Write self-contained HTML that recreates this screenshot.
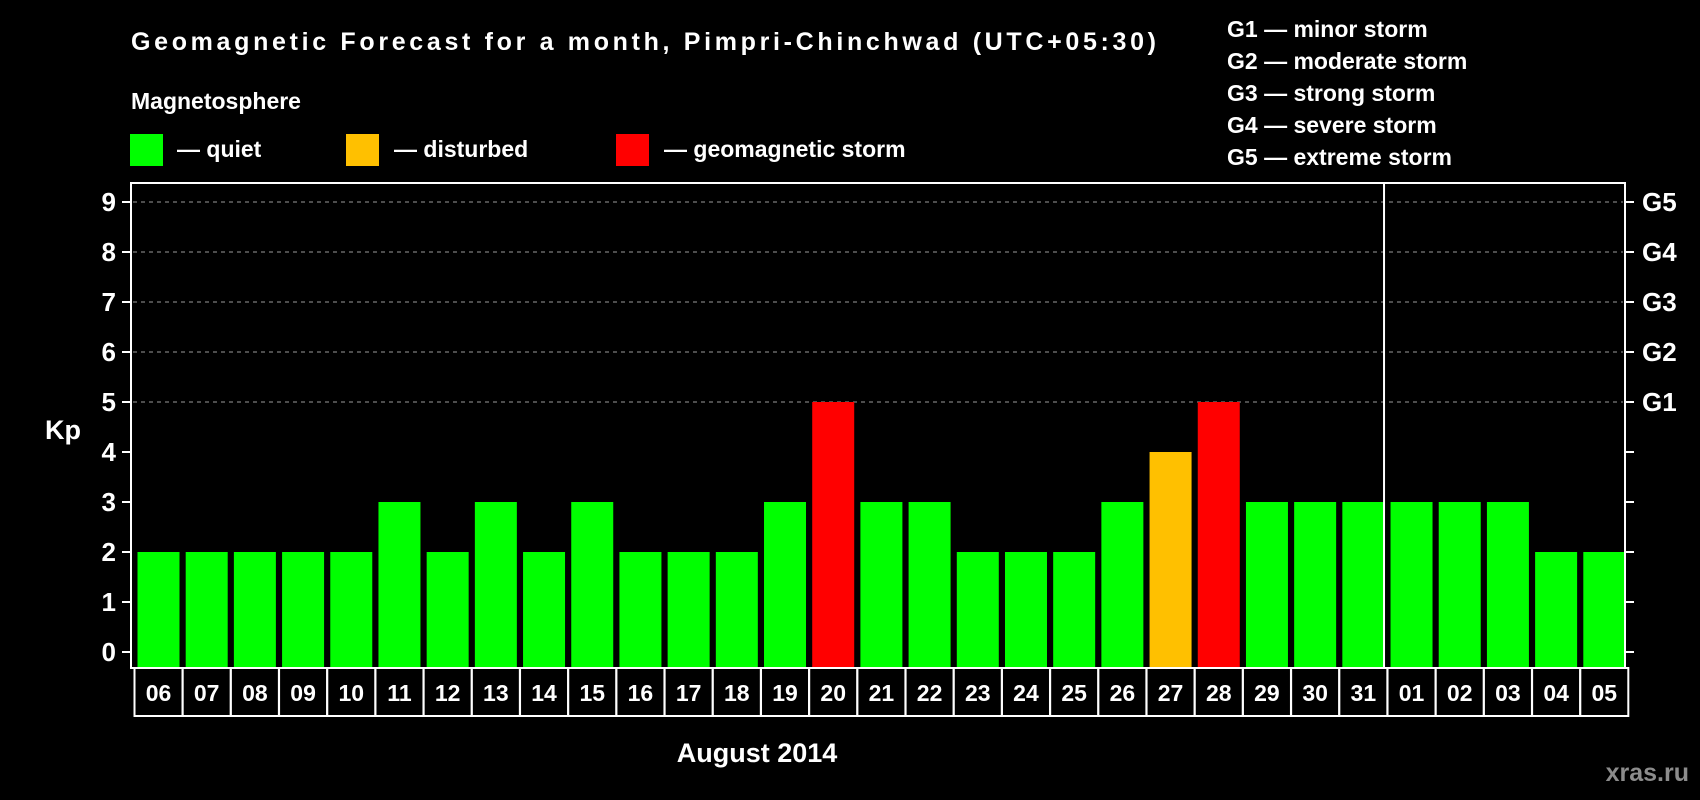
<!DOCTYPE html>
<html><head><meta charset="utf-8"><style>
html,body{margin:0;padding:0;background:#000;}
svg{display:block;font-family:"Liberation Sans",Arial,sans-serif;font-weight:bold;}
</style></head><body>
<svg id="chart" width="1700" height="800" viewBox="0 0 1700 800" xmlns="http://www.w3.org/2000/svg">
<rect width="1700" height="800" fill="#000"/>
<text x="131" y="50" fill="#fff" font-size="25" textLength="1025">Geomagnetic Forecast for a month, Pimpri-Chinchwad (UTC+05:30)</text>
<text x="131" y="109" fill="#fff" font-size="23">Magnetosphere</text>
<rect x="130" y="134" width="33" height="32" fill="#00ff00"/>
<text x="177" y="157" fill="#fff" font-size="23">— quiet</text>
<rect x="346" y="134" width="33" height="32" fill="#ffc000"/>
<text x="394" y="157" fill="#fff" font-size="23">— disturbed</text>
<rect x="616" y="134" width="33" height="32" fill="#ff0000"/>
<text x="664" y="157" fill="#fff" font-size="23">— geomagnetic storm</text>
<g fill="#fff" font-size="23">
<text x="1227" y="37">G1 — minor storm</text>
<text x="1227" y="69">G2 — moderate storm</text>
<text x="1227" y="101">G3 — strong storm</text>
<text x="1227" y="133">G4 — severe storm</text>
<text x="1227" y="165">G5 — extreme storm</text>
</g>
<text x="63" y="439" fill="#fff" font-size="27" text-anchor="middle">Kp</text>
<text x="757" y="762" fill="#fff" font-size="27" text-anchor="middle">August 2014</text>
<text x="1689" y="781" fill="#8c8c8c" font-size="25" text-anchor="end">xras.ru</text>
<g id="grid"></g><g id="bars"></g><g id="axes"></g><g id="labels"></g>
</svg>
<script>
const days = ["06","07","08","09","10","11","12","13","14","15","16","17","18","19","20","21","22","23","24","25","26","27","28","29","30","31","01","02","03","04","05"];
const kpValues = [2,2,2,2,2,3,2,3,2,3,2,2,2,3,5,3,3,2,2,2,3,4,5,3,3,3,3,3,3,2,2];
const yTicks = [0,1,2,3,4,5,6,7,8,9];
const stormLabels = ["G1","G2","G3","G4","G5"];
const monthBreakIndex = 26;

const NS="http://www.w3.org/2000/svg";
const L=131,R=1625,T=183,B=668,Y0=652,unit=50;
const slot=(R-L)/days.length;
function yScale(v){return Y0-v*unit;}
function xScale(i){return L+i*slot;}
function mk(tag,attrs,parent){const e=document.createElementNS(NS,tag);for(const k in attrs)e.setAttribute(k,attrs[k]);parent.appendChild(e);return e;}
const grid=document.getElementById('grid'),bars=document.getElementById('bars'),axes=document.getElementById('axes'),labels=document.getElementById('labels');
function color(v){return v>=5?"#ff0000":(v>=4?"#ffc000":"#00ff00");}

yTicks.forEach(v=>{
  const y=yScale(v);
  if(v>=5){const g=mk('line',{x1:L+2,x2:R-2,y1:y,y2:y,stroke:'#9a9a9a','stroke-width':1,'stroke-dasharray':'4,4'},grid);
    
    }
  const t1=mk('line',{x1:L-9,x2:L,y1:y,y2:y,stroke:'#fff','stroke-width':2},axes);
  
  
  const t2=mk('line',{x1:R,x2:R+9,y1:y,y2:y,stroke:'#fff','stroke-width':2},axes);
  
  
  const lb=mk('text',{x:116,y:y+9,fill:'#fff','font-size':26,'text-anchor':'end'},labels);
  lb.textContent=v;
  
  
  if(v>=5){const gl=mk('text',{x:1642,y:y+9,fill:'#fff','font-size':26},labels);
    gl.textContent=stormLabels[v-5];
    
    }
});

kpValues.forEach((v,i)=>{
  const x=xScale(i)+6.5;
  const r=mk('rect',{x:x,y:yScale(v),width:42,height:B-yScale(v),fill:color(v)},bars);
  
  
  const c=mk('rect',{x:x-3,y:B,width:48,height:48,fill:'#000',stroke:'#fff','stroke-width':2},labels);
  
  
  const t=mk('text',{x:x+21,y:B+33,fill:'#fff','font-size':23,'text-anchor':'middle'},labels);
  t.textContent=days[i];
  
  
});

const box=mk('rect',{x:L,y:T,width:R-L,height:B-T,fill:'none',stroke:'#fff','stroke-width':2},axes);


const sep=mk('line',{x1:xScale(monthBreakIndex),x2:xScale(monthBreakIndex),y1:T,y2:B,stroke:'#fff','stroke-width':2},axes);


</script>
</body></html>
